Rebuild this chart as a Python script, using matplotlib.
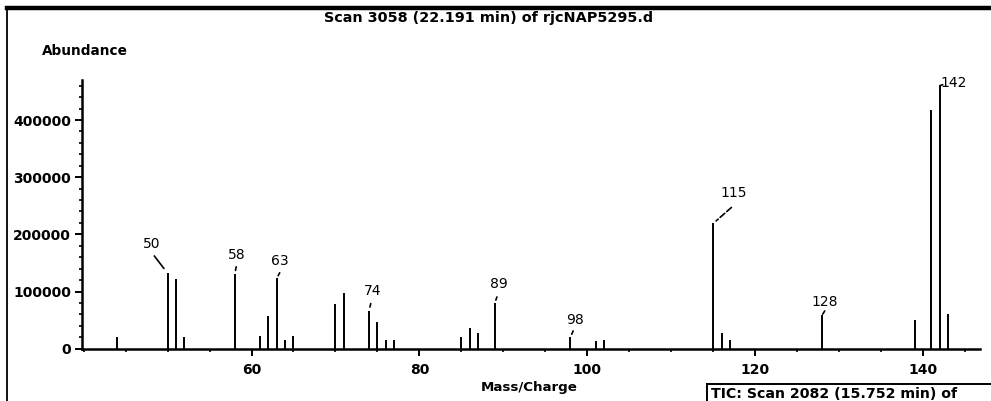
import matplotlib
matplotlib.use("Agg")
import matplotlib.pyplot as plt
from matplotlib.ticker import MultipleLocator, FixedLocator, FuncFormatter

# Mass spectrum of scan 3058
mz = [44, 50, 51, 52, 58, 61, 62, 63, 64, 65, 70, 71, 74, 75, 76, 77,
      85, 86, 87, 89, 98, 101, 102, 115, 116, 117, 128, 139, 141, 142, 143]
abundance = [20000, 132000, 122000, 21000, 131000, 22000, 58000, 123000,
             16000, 23000, 79000, 97000, 66000, 47000, 16000, 16000,
             21000, 37000, 27000, 80000, 20000, 14000, 16000, 219000,
             27000, 16000, 59000, 51000, 418000, 460000, 61000]

labeled_mz = [50, 58, 63, 74, 89, 98, 115, 128, 142]

y_ticks = [0, 100000, 200000, 300000, 400000]
x_ticks = [60, 80, 100, 120, 140]

title = "Scan 3058 (22.191 min) of rjcNAP5295.d"
footer = "TIC: Scan 2082 (15.752 min) of"

W, H, DPI = 991, 401, 100
PX = 72.0 / DPI  # points per pixel

fig = plt.figure(figsize=(W / DPI, H / DPI), dpi=DPI)
fig.patch.set_facecolor("white")

ax = fig.add_axes([82 / W, (H - 348.7) / H, (980 - 82) / W, (348.7 - 80) / H])
ax.set_xlim(39.8, 146.8)
ax.set_ylim(0, 470000)

ax.vlines(mz, 0, abundance, colors="black", linewidth=1.4)

for side in ("top", "right"):
    ax.spines[side].set_visible(False)
for side in ("left", "bottom"):
    ax.spines[side].set_linewidth(1.8)

ax.yaxis.set_major_locator(FixedLocator(y_ticks))
ax.yaxis.set_minor_locator(MultipleLocator(20000))
ax.yaxis.set_major_formatter(FuncFormatter(lambda v, p: f"{int(v)}"))
ax.xaxis.set_major_locator(FixedLocator(x_ticks))
ax.xaxis.set_minor_locator(MultipleLocator(5))
ax.tick_params(axis="both", which="major", direction="out", length=5,
               width=1.4, labelsize=10, pad=3)
ax.tick_params(axis="both", which="minor", direction="out", length=2.5,
               width=1.2)
ax.tick_params(axis="x", which="major", pad=5)
for lab in ax.get_xticklabels() + ax.get_yticklabels():
    lab.set_fontweight("bold")

# peak annotations: label offset, leader far-end offset (pixels) and gap
label_style = {
    50:  dict(text=(-16, 29), lead=(-13.3, 17.3), gap=6, ls="-"),
    58:  dict(text=(2, 19), lead=(1.5, 7), gap=3.5, ls="-"),
    63:  dict(text=(3.3, 17.6), lead=(3, 5.6), gap=3, ls="-"),
    74:  dict(text=(3.4, 20), lead=(1.7, 7.4), gap=4, ls="-"),
    89:  dict(text=(3.7, 19.4), lead=(2, 6), gap=3, ls="-"),
    98:  dict(text=(4.4, 17.3), lead=(2.7, 6.3), gap=3.3, ls="-"),
    115: dict(text=(20.6, 30.6), lead=(18.3, 16), gap=4, ls="--"),
    128: dict(text=(2.7, 13.3), lead=(2.5, 4), gap=1, ls="-"),
    142: dict(text=(14, 3), lead=(3, 1), gap=0, ls="-"),
}
for m in labeled_mz:
    a = abundance[mz.index(m)]
    st = label_style[m]
    tx, ty = st["text"]
    ax.annotate(str(m), xy=(m, a), xytext=(tx * PX, ty * PX),
                textcoords="offset points", ha="center", va="center",
                fontsize=10, annotation_clip=False)
    lx, ly = st["lead"]
    ax.annotate("", xy=(m, a), xytext=(lx * PX, ly * PX),
                textcoords="offset points", annotation_clip=False,
                arrowprops=dict(arrowstyle="-", lw=1.2, ls=st["ls"],
                                shrinkA=0, shrinkB=st["gap"] * PX))

# axis captions
fig.text(42 / W, 1 - 51 / H, "Abundance", fontsize=9.8, fontweight="bold",
         ha="left", va="center")
fig.text(529 / W, 1 - 388 / H, "Mass/Charge", fontsize=9.6, fontweight="bold",
         ha="center", va="center")
fig.text(489 / W, 1 - 18 / H, title, fontsize=10.4, fontweight="bold",
         ha="center", va="center")

# page frame: heavy rule across the top and a thin rule down the left
fig.add_artist(plt.Line2D([7 / W, 1], [1 - 8 / H, 1 - 8 / H],
                          transform=fig.transFigure, color="black", lw=3.2))
fig.add_artist(plt.Line2D([7 / W, 7 / W], [1 - 7 / H, 0],
                          transform=fig.transFigure, color="black", lw=1.3))

# next panel's header box at the bottom right
fig.add_artist(plt.Line2D([707 / W, 1], [1 - 384 / H, 1 - 384 / H],
                          transform=fig.transFigure, color="black", lw=1.4))
fig.add_artist(plt.Line2D([707 / W, 707 / W], [1 - 384 / H, 0],
                          transform=fig.transFigure, color="black", lw=1.4))
fig.text(711 / W, 1 - 394 / H, footer, fontsize=10.2, fontweight="bold",
         ha="left", va="center")

fig.savefig("out.png", dpi=DPI, facecolor="white")
